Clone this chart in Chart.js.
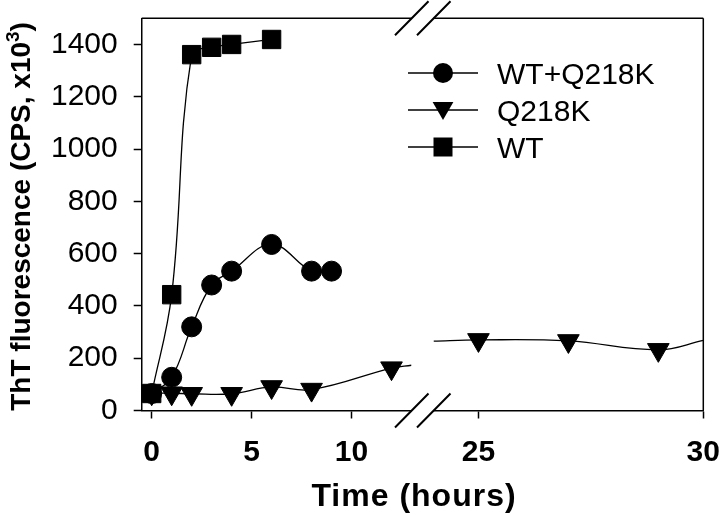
<!DOCTYPE html>
<html>
<head>
<meta charset="utf-8">
<script src="https://cdn.jsdelivr.net/npm/chart.js@4/dist/chart.umd.min.js"></script>
<style>
  html, body { margin: 0; padding: 0; background: #fff; }
  #wrap { position: relative; width: 720px; height: 515px; }
  #wrap canvas { position: absolute; left: 0; top: 0; }
</style>
</head>
<body>
<div id="wrap">
  <canvas id="leftPart" width="720" height="515"></canvas>
  <canvas id="rightPart" width="720" height="515"></canvas>
</div>
<script>
// measured points (hours, CPS x10^3)
const wtHours = [0, 1, 2, 3, 4, 6];
const wtValues = [65, 443, 1361, 1389, 1400, 1419];
const mixHours = [0, 1, 2, 3, 4, 6, 8, 9];
const mixValues = [65, 127, 320, 480, 533, 635, 533, 533];
const q218kHours = [0, 1, 2, 4, 6, 8, 12, 25, 27, 29];
const q218kValues = [66, 66, 64, 64, 90, 80, 162, 270, 266, 232];
// where the fitted Q218K curve meets the break and the right edge (no marker)
const q218kCurveHours = [13, 24, 30];
const q218kCurveValues = [173, 265, 268];

const yTicks = [0, 200, 400, 600, 800, 1000, 1200, 1400];
const leftTicks = [0, 5, 10];
const rightTicks = [25, 30];
const leftRange = [-0.5, 13];
const rightRange = [24, 30];

const seriesLabels = ['WT+Q218K', 'Q218K', 'WT'];
const yTitle = ['ThT fluorescence (CPS, x10', '3', ')'];
const xTitle = 'Time (hours)';

const SANS = '"Liberation Sans", Arial, Helvetica, sans-serif';
const BLACK = '#000';

function pts(hours, values, from, to, fit) {
  const out = [];
  hours.forEach((h, i) => {
    if (h >= from && h <= to) out.push({ x: h, y: values[i], fit: !!fit });
  });
  return out;
}

function q218kSeries(from, to) {
  return pts(q218kHours, q218kValues, from, to, false)
    .concat(pts(q218kCurveHours, q218kCurveValues, from, to, true))
    .sort((a, b) => a.x - b.x);
}

function lineSet(label, data, style, radius, rotation) {
  return {
    label,
    data,
    borderColor: BLACK,
    borderWidth: 1.3,
    backgroundColor: BLACK,
    tension: 0.4,
    fill: false,
    pointStyle: style,
    pointRotation: rotation || 0,
    pointRadius: ctx => (ctx.raw && ctx.raw.fit ? 0 : radius),
    pointBackgroundColor: BLACK,
    pointBorderColor: BLACK,
    pointBorderWidth: 1
  };
}

// keep the plot box exactly where the layout padding puts it
function noOverflow(s) {
  s.paddingTop = 0;
  s.paddingBottom = 0;
  s.paddingLeft = 0;
  s.paddingRight = 0;
}

const frame = {
  id: 'frame',
  afterDraw(chart, args, opts) {
    const { ctx, chartArea: a } = chart;
    ctx.save();
    ctx.strokeStyle = BLACK;
    ctx.lineWidth = 1.5;
    ctx.beginPath();
    ctx.moveTo(a.left, a.top);
    ctx.lineTo(a.right, a.top);
    if (opts.closeRight) {
      ctx.moveTo(a.right, a.top);
      ctx.lineTo(a.right, a.bottom);
    }
    ctx.stroke();
    // axis break slashes
    const bx = opts.breakAt === 'right' ? a.right : a.left;
    ctx.lineWidth = 2;
    ctx.beginPath();
    [a.top, a.bottom].forEach(by => {
      ctx.moveTo(bx - 16.5, by + 17);
      ctx.lineTo(bx + 17, by - 17);
    });
    ctx.stroke();

    if (opts.yTitle) {
      // y title with a raised exponent
      const cy = (a.top + a.bottom) / 2 + 2;
      ctx.translate(22, cy);
      ctx.rotate(-Math.PI / 2);
      ctx.fillStyle = BLACK;
      ctx.textBaseline = 'middle';
      ctx.textAlign = 'left';
      const big = 'bold 28px ' + SANS;
      const small = 'bold 19px ' + SANS;
      ctx.font = big;
      const w0 = ctx.measureText(yTitle[0]).width;
      const w2 = ctx.measureText(yTitle[2]).width;
      ctx.font = small;
      const w1 = ctx.measureText(yTitle[1]).width;
      let x = -(w0 + w1 + w2) / 2;
      ctx.font = big;
      ctx.fillText(yTitle[0], x, 0);
      x += w0;
      ctx.font = small;
      ctx.fillText(yTitle[1], x, -8);
      x += w1;
      ctx.font = big;
      ctx.fillText(yTitle[2], x, 0);
    }
    ctx.restore();
  }
};

function drawMarker(ctx, style, x, y, r) {
  ctx.beginPath();
  if (style === 'circle') {
    ctx.arc(x, y, r, 0, Math.PI * 2);
  } else if (style === 'triangle') {
    ctx.moveTo(x, y + r);
    ctx.lineTo(x - r * 0.866, y - r / 2);
    ctx.lineTo(x + r * 0.866, y - r / 2);
    ctx.closePath();
  } else {
    ctx.rect(x - r, y - r, 2 * r, 2 * r);
  }
  ctx.fill();
}

const legendAndTitle = {
  id: 'legendAndTitle',
  afterDraw(chart) {
    const ctx = chart.ctx;
    ctx.save();
    ctx.fillStyle = BLACK;
    ctx.strokeStyle = BLACK;
    const rows = [
      { text: seriesLabels[0], style: 'circle', r: 10, y: 73 },
      { text: seriesLabels[1], style: 'triangle', r: 12, y: 110 },
      { text: seriesLabels[2], style: 'rect', r: 9.5, y: 147 }
    ];
    rows.forEach(row => {
      ctx.lineWidth = 1.3;
      ctx.beginPath();
      ctx.moveTo(408, row.y);
      ctx.lineTo(478, row.y);
      ctx.stroke();
      drawMarker(ctx, row.style, 443, row.style === 'triangle' ? row.y - 2 : row.y, row.r);
      ctx.font = '30px ' + SANS;
      ctx.textAlign = 'left';
      ctx.textBaseline = 'alphabetic';
      ctx.fillText(row.text, 497, row.y + 11);
    });
    ctx.font = 'bold 32px ' + SANS;
    ctx.textAlign = 'center';
    ctx.textBaseline = 'alphabetic';
    if ('letterSpacing' in ctx) ctx.letterSpacing = '1px';
    ctx.fillText(xTitle, 414, 506);
    ctx.restore();
  }
};

function xScale(range, ticks) {
  return {
    type: 'linear',
    min: range[0],
    max: range[1],
    afterBuildTicks: s => { s.ticks = ticks.map(v => ({ value: v })); },
    afterFit: s => { s.height = 104.5; noOverflow(s); },
    ticks: {
      color: BLACK,
      font: { family: SANS, size: 30, weight: 'bold' },
      padding: 16,
      maxRotation: 0,
      callback: v => String(v)
    },
    grid: {
      display: true,
      drawOnChartArea: false,
      drawTicks: true,
      tickLength: 8,
      tickWidth: 1.5,
      tickColor: BLACK
    },
    border: { display: true, color: BLACK, width: 1.5 }
  };
}

const common = {
  responsive: false,
  animation: false,
  events: [],
  plugins: { legend: { display: false }, tooltip: { enabled: false } }
};

new Chart(document.getElementById('leftPart'), {
  type: 'line',
  data: {
    datasets: [
      lineSet(seriesLabels[0], pts(mixHours, mixValues, -1, 13), 'circle', 10),
      lineSet(seriesLabels[1], q218kSeries(-1, 13), 'triangle', 12.5, 180),
      lineSet(seriesLabels[2], pts(wtHours, wtValues, -1, 13), 'rect', 13)
    ]
  },
  options: Object.assign({}, common, {
    layout: { autoPadding: false, padding: { left: 0, right: 308.5, top: 18.3, bottom: 0 } },
    scales: {
      x: xScale(leftRange, leftTicks),
      y: {
        min: 0,
        max: 1500,
        afterBuildTicks: s => { s.ticks = yTicks.map(v => ({ value: v })); },
        afterFit: s => { s.width = 141.7; noOverflow(s); },
        ticks: {
          color: BLACK,
          font: { family: SANS, size: 30 },
          padding: 16,
          callback: v => String(v)
        },
        grid: {
          display: true,
          drawOnChartArea: false,
          drawTicks: true,
          tickLength: 8,
          tickWidth: 1.5,
          tickColor: BLACK
        },
        border: { display: true, color: BLACK, width: 1.5 }
      }
    },
    plugins: Object.assign({}, common.plugins, {
      frame: { breakAt: 'right', closeRight: false, yTitle: true }
    })
  }),
  plugins: [frame]
});

new Chart(document.getElementById('rightPart'), {
  type: 'line',
  data: {
    datasets: [
      lineSet(seriesLabels[1], q218kSeries(24, 30), 'triangle', 12.5, 180)
    ]
  },
  options: Object.assign({}, common, {
    layout: { autoPadding: false, padding: { left: 433.5, right: 16.7, top: 18.3, bottom: 0 } },
    scales: {
      x: xScale(rightRange, rightTicks),
      y: { display: false, min: 0, max: 1500 }
    },
    plugins: Object.assign({}, common.plugins, {
      frame: { breakAt: 'left', closeRight: true }
    })
  }),
  plugins: [frame, legendAndTitle]
});
</script>
</body>
</html>
